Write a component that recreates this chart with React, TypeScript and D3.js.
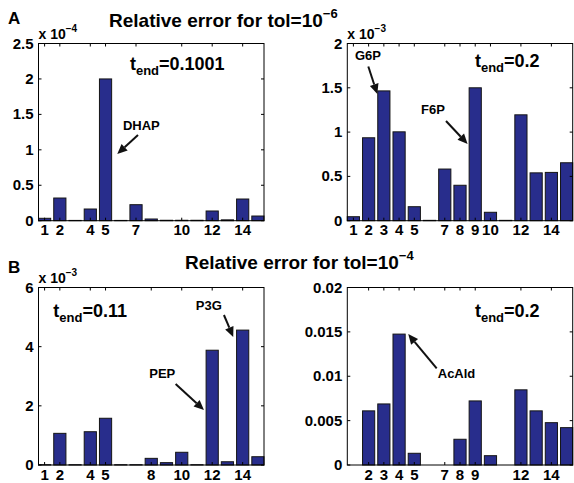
import React from 'react';
import * as d3 from 'd3';

// metabolite index on the x axis
const species = [1, 2, 3, 4, 5, 6, 7, 8, 9, 10, 11, 12, 13, 14, 15];

// relative errors, tol = 1e-6
const errA1 = [0.034e-4, 0.32e-4, 0.004e-4, 0.165e-4, 2.0e-4, 0.004e-4, 0.226e-4, 0.024e-4, 0.006e-4, 0.006e-4, 0.006e-4, 0.137e-4, 0.012e-4, 0.306e-4, 0.066e-4];
const errA2 = [0.045e-3, 0.936e-3, 1.465e-3, 1.003e-3, 0.158e-3, 0.004e-3, 0.583e-3, 0.4e-3, 1.5e-3, 0.095e-3, 0.004e-3, 1.195e-3, 0.54e-3, 0.545e-3, 0.654e-3];
// relative errors, tol = 1e-4
const errB1 = [0.01e-3, 1.07e-3, 0.01e-3, 1.125e-3, 1.58e-3, 0.01e-3, 0.01e-3, 0.225e-3, 0.08e-3, 0.43e-3, 0.01e-3, 3.88e-3, 0.11e-3, 4.56e-3, 0.28e-3];
const errB2 = [0, 0.0061, 0.00688, 0.01475, 0.00132, 0, 0, 0.0029, 0.00722, 0.00105, 0, 0.00847, 0.0061, 0.00477, 0.00421];

const xTicksA1 = [1, 2, 4, 5, 7, 10, 12, 14];
const xTicksA2 = [1, 2, 3, 4, 5, 7, 8, 9, 10, 12, 14];
const xTicksB1 = [1, 2, 4, 5, 8, 10, 12, 14];
const xTicksB2 = [2, 3, 4, 5, 7, 8, 9, 12, 14];

const yTicksA1 = [0, 0.5e-4, 1e-4, 1.5e-4, 2e-4, 2.5e-4];
const yLabelsA1 = ['0', '0.5', '1', '1.5', '2', '2.5'];
const yTicksA2 = [0, 0.5e-3, 1e-3, 1.5e-3, 2e-3];
const yLabelsA2 = ['0', '0.5', '1', '1.5', '2'];
const yTicksB1 = [0, 2e-3, 4e-3, 6e-3];
const yLabelsB1 = ['0', '2', '4', '6'];
const yTicksB2 = [0, 0.005, 0.01, 0.015, 0.02];
const yLabelsB2 = ['0', '0.005', '0.01', '0.015', '0.02'];

// annotations in data units
const tEndA1 = { label: '0.1001', x: 6.6, y: 2.12e-4 };
const tEndA2 = { label: '0.2', x: 8.98, y: 1.74e-3 };
const tEndB1 = { label: '0.11', x: 1.57, y: 4.99e-3 };
const tEndB2 = { label: '0.2', x: 8.98, y: 0.0167 };

const notesA1 = [{ text: 'DHAP', x: 6.14, y: 1.28e-4, ax: 7.13, ay: 1.21e-4, bx: 5.77, by: 0.94e-4 }];
const notesA2 = [
  { text: 'G6P', x: 1.1, y: 1.81e-3, ax: 1.98, ay: 1.74e-3, bx: 2.57, by: 1.43e-3 },
  { text: 'F6P', x: 5.44, y: 1.2e-3, ax: 7.08, ay: 1.125e-3, bx: 8.5, by: 0.866e-3 },
];
const notesB1 = [
  { text: 'P3G', x: 10.92, y: 5.24e-3, ax: 12.77, ay: 5.07e-3, bx: 13.38, by: 4.33e-3 },
  { text: 'PEP', x: 7.87, y: 2.93e-3, ax: 9.6, ay: 2.74e-3, bx: 11.46, by: 1.86e-3 },
];
const notesB2 = [{ text: 'AcAld', x: 6.54, y: 0.00975, ax: 6.47, ay: 0.01088, bx: 4.6, by: 0.01475 }];

const FONT = '"Liberation Sans", Arial, Helvetica, sans-serif';
const BAR_FILL = '#282d8c';

type Note = { text: string; x: number; y: number; ax: number; ay: number; bx: number; by: number };

function Arrow({ x1, y1, x2, y2 }: { x1: number; y1: number; x2: number; y2: number }) {
  const ang = Math.atan2(y2 - y1, x2 - x1);
  const len = 10, half = 4.5;
  const bx = x2 - len * Math.cos(ang), by = y2 - len * Math.sin(ang);
  const pts = [
    [x2, y2],
    [bx + half * Math.sin(ang), by - half * Math.cos(ang)],
    [bx - half * Math.sin(ang), by + half * Math.cos(ang)],
  ];
  return (
    <g>
      <line x1={x1} y1={y1} x2={bx} y2={by} stroke="#111" strokeWidth={2} />
      <polygon points={pts.map(p => p.join(',')).join(' ')} fill="#111" />
    </g>
  );
}

function Panel(props: {
  values: number[]; xTicks: number[]; yTicks: number[]; yLabels: string[];
  exponent?: string; left: number; right: number; top: number; bottom: number;
  tEnd: { label: string; x: number; y: number }; notes: Note[];
}) {
  const { values, xTicks, yTicks, yLabels, exponent, left, right, top, bottom, tEnd, notes } = props;
  const x = d3.scaleLinear().domain([0.6, 15.4]).range([left, right]);
  const y = d3.scaleLinear().domain([0, yTicks[yTicks.length - 1]]).range([bottom, top]);
  const bw = x(1.4) - x(0.6);
  return (
    <g fontFamily={FONT} fontWeight="bold">
      {species.map((s, i) => (
        <rect key={s} x={x(s - 0.4)} y={y(values[i])} width={bw} height={Math.max(0, y(0) - y(values[i]))}
          fill={BAR_FILL} stroke="#151515" strokeWidth={1} />
      ))}
      <rect x={left} y={top} width={right - left} height={bottom - top} fill="none" stroke="#000" strokeWidth={1} />
      {xTicks.map(t => (
        <g key={t}>
          <line x1={x(t)} x2={x(t)} y1={bottom} y2={bottom - 3} stroke="#000" />
          <line x1={x(t)} x2={x(t)} y1={top} y2={top + 3} stroke="#000" />
          <text x={x(t)} y={bottom + 14.5} textAnchor="middle" fontSize={15}>{t}</text>
        </g>
      ))}
      {yTicks.map((t, i) => (
        <g key={i}>
          <line x1={left} x2={left + 3} y1={y(t)} y2={y(t)} stroke="#000" />
          <line x1={right} x2={right - 3} y1={y(t)} y2={y(t)} stroke="#000" />
          <text x={left - 5} y={y(t) + 5} textAnchor="end" fontSize={15}>{yLabels[i]}</text>
        </g>
      ))}
      {exponent && (
        <text x={left} y={top - 5} fontSize={14}>
          x 10<tspan dy={-7} fontSize={10}>{'\u2212' + exponent}</tspan>
        </text>
      )}
      <text x={x(tEnd.x)} y={y(tEnd.y)} fontSize={18}>
        t<tspan dy={5} fontSize={13}>end</tspan><tspan dy={-5}>={tEnd.label}</tspan>
      </text>
      {notes.map(n => (
        <g key={n.text}>
          <text x={x(n.x)} y={y(n.y)} fontSize={13}>{n.text}</text>
          <Arrow x1={x(n.ax)} y1={y(n.ay)} x2={x(n.bx)} y2={y(n.by)} />
        </g>
      ))}
    </g>
  );
}

export default function App() {
  return (
    <svg width={574} height={483} style={{ position: 'absolute', left: 0, top: 0, background: '#fff' }}>
      <g fontFamily={FONT} fontWeight="bold">
        <text x={8} y={24} fontSize={17}>A</text>
        <text x={109} y={27} fontSize={19}>
          Relative error for tol=10<tspan dy={-9} fontSize={13}>{'\u2212'}6</tspan>
        </text>
        <text x={8} y={273} fontSize={17}>B</text>
        <text x={185} y={269} fontSize={19}>
          Relative error for tol=10<tspan dy={-9} fontSize={13}>{'\u2212'}4</tspan>
        </text>
      </g>
      <Panel values={errA1} xTicks={xTicksA1} yTicks={yTicksA1} yLabels={yLabelsA1} exponent="4"
        left={38.5} right={264} top={43.5} bottom={220.7} tEnd={tEndA1} notes={notesA1} />
      <Panel values={errA2} xTicks={xTicksA2} yTicks={yTicksA2} yLabels={yLabelsA2} exponent="3"
        left={347.3} right={572.7} top={43.5} bottom={220.7} tEnd={tEndA2} notes={notesA2} />
      <Panel values={errB1} xTicks={xTicksB1} yTicks={yTicksB1} yLabels={yLabelsB1} exponent="3"
        left={38.5} right={264} top={287.5} bottom={465} tEnd={tEndB1} notes={notesB1} />
      <Panel values={errB2} xTicks={xTicksB2} yTicks={yTicksB2} yLabels={yLabelsB2}
        left={347.3} right={572.7} top={287.5} bottom={465} tEnd={tEndB2} notes={notesB2} />
    </svg>
  );
}
